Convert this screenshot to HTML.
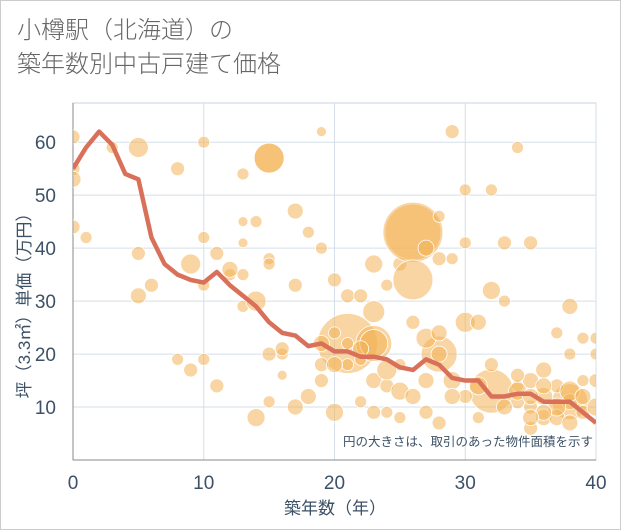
<!DOCTYPE html>
<html><head><meta charset="utf-8"><style>
body{margin:0;background:#fff;}
#wrap{position:relative;width:619px;height:528px;border:1px solid #ccc;font-family:"Liberation Sans","Noto Sans CJK JP",sans-serif;}
#title{position:absolute;left:16px;top:13px;font-size:24px;line-height:34px;color:#666;font-weight:300;}
</style></head><body>
<div id="wrap">
<div id="title">小樽駅（北海道）の<br>築年数別中古戸建て価格</div>
<svg id="chart" width="621" height="530" style="position:absolute;left:-1px;top:-1px"></svg>
</div>
<script>
const xTicks=[0,10,20,30,40];
const yTicks=[10,20,30,40,50,60];
const lineX=[0,1,2,3,4,5,6,7,8,9,10,11,12,13,14,15,16,17,18,19,20,21,22,23,24,25,26,27,28,29,30,31,32,33,34,35,36,37,38,39,40];
const lineY=[55,59,62,59.5,54,53,42,37,35,34,33.5,35.5,33,31,29,26,24,23.5,21.5,22,20.5,20.5,19.5,19.5,19,17.5,17,19,18,15.5,15,15,12,12,12.5,12.5,11,11,11,9,7];
const bubX=[0,0,0,0,1,3,5,5,5,6,8,8,9,9,10,10,10,10,11,11,12,13,13,13,13,13,14,14,14,15,15,15,15,15,16,16,17,17,17,18,18,19,19,19,19,20,20,20,21,21,21,22,22,22,23,23,23,23,23,24,24,24,25,25,25,26,26,26,27,27,27,27,28,28,28,28,28,29,29,29,30,30,30,30,31,31,32,32,32,33,33,34,34,34,35,35,35,35,36,36,36,37,37,37,38,38,38,38,39,39,39,40,40,40,40,33,34,35,36,37,38,39,36,34,35,31,29,24,25,26,22,20,19,16,12];
const bubY=[61,55,53,44,42,59,59,39,31,33,55,19,17,37,60,42,33,19,39,14,35,54,45,41,35,29,45,30,8,57,38,37,20,11,20,16,47,33,10,43,12,62,40,18,15,34,24,9,22,31,18,31,19,11,37,28,22,15,9,33,14,9,37,18,8,43,34,26,40,23,15,9,46,38,24,20,7,62,38,15,51,41,26,12,26,8,51,32,18,41,30,14,59,11,41,15,10,6,17,12,8,24,14,8,29,20,11,7,23,15,9,23,20,15,10,10,13,12,14,10,13,12,9,16,8,14,12,17,13,12,21,18,22,21,36];
const bubR=[7,7,8,7,6,6,10,7,8,7,7,6,7,10,6,6,6,6,7,7,6,6,5,5,6,6,6,10,9,15,6,6,7,6,6,5,8,7,8,6,8,5,6,7,7,7,6,9,6,7,6,7,6,6,9,11,14,8,7,6,7,6,7,6,6,30,20,7,8,10,8,7,6,7,8,8,7,7,6,9,6,6,10,7,8,6,6,9,7,7,6,6,6,7,7,8,7,7,8,9,8,6,7,8,8,6,8,8,6,6,7,6,6,7,9,8,9,8,8,9,10,8,8,7,8,9,8,10,9,8,8,8,8,7,8];
const big=[[21,22,30],[26,43,28],[23,22,18],[32,13,22],[38,11,18],[28,20,18],[15,57,15]];
const NS="http://www.w3.org/2000/svg";
const svg=document.getElementById('chart');
const L=73,R=596,T=103,B=460;
const sx=v=>L+(v-0)/40*(R-L);
const sy=v=>B-(v/67.4)*(B-T);
function mk(t,a){const e=document.createElementNS(NS,t);for(const k in a)e.setAttribute(k,a[k]);svg.appendChild(e);return e;}
const fr=mk('rect',{x:L,y:T,width:R-L,height:B-T,fill:'#fff',stroke:'#c8d3df','stroke-width':1});


xTicks.forEach(v=>{const g=mk('line',{x1:sx(v),x2:sx(v),y1:T,y2:B,stroke:'#d5dfe9'});


const t=mk('text',{x:sx(v),y:489,'text-anchor':'middle','font-size':19,fill:'#3d5166'});t.textContent=v;

});
yTicks.forEach(v=>{const g=mk('line',{x1:L,x2:R,y1:sy(v),y2:sy(v),stroke:'#d5dfe9'});


const t=mk('text',{x:56,y:sy(v)+7,'text-anchor':'end','font-size':19,fill:'#3d5166'});t.textContent=v;

});
const ax=mk('line',{x1:L,x2:R,y1:B,y2:B,stroke:'#888'});


const ay=mk('line',{x1:L,x2:L,y1:T,y2:B,stroke:'#888'});


const cg=document.createElementNS(NS,'g');cg.setAttribute('clip-path','url(#cp)');
const defs=mk('defs',{});defs.innerHTML='<clipPath id="cp"><rect x="'+L+'" y="'+T+'" width="'+(R-L)+'" height="'+(B-T)+'"/></clipPath>';
svg.appendChild(cg);
function bub(x,y,r){const c=document.createElementNS(NS,'circle');c.setAttribute('cx',sx(x));c.setAttribute('cy',sy(y));c.setAttribute('r',r);c.setAttribute('fill','rgba(242,178,85,0.55)');c.setAttribute('stroke','#fff');c.setAttribute('stroke-width','0.8');


cg.appendChild(c);}
big.forEach(b=>bub(b[0],b[1],b[2]));
bubX.forEach((x,i)=>bub(x,bubY[i],bubR[i]));
const pl=document.createElementNS(NS,'polyline');
pl.setAttribute('points',lineX.map((x,i)=>sx(x)+','+sy(lineY[i])).join(' '));
pl.setAttribute('fill','none');pl.setAttribute('stroke','#d9705a');pl.setAttribute('stroke-width','4.5');pl.setAttribute('stroke-linejoin','round');


cg.appendChild(pl);
const note=mk('text',{x:593,y:446,'text-anchor':'end','font-size':12.5,fill:'#3d5166'});note.textContent='円の大きさは、取引のあった物件面積を示す';


const xt=mk('text',{x:335,y:514,'text-anchor':'middle','font-size':17,fill:'#3d5166'});xt.textContent='築年数（年）';


const yt=mk('text',{x:0,y:0,'text-anchor':'middle','font-size':17,fill:'#3d5166',transform:'translate(30,'+((T+B)/2+20)+') rotate(-90)'});yt.textContent='坪（3.3㎡）単価（万円）';


</script>
</body></html>
